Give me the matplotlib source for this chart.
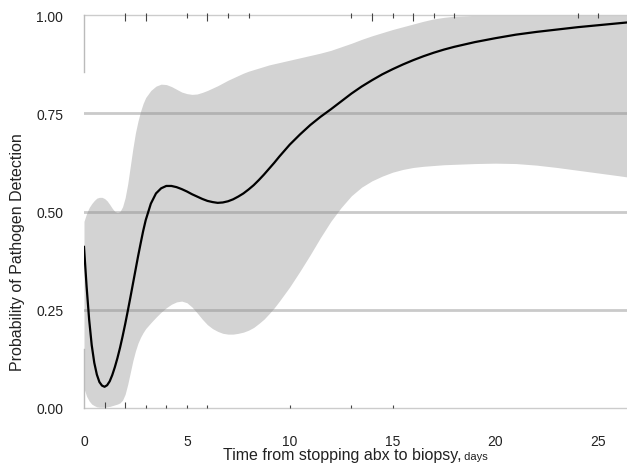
import matplotlib
matplotlib.use("Agg")
import matplotlib.pyplot as plt
from collections import Counter

plt.rcParams['font.family'] = ['Liberation Sans', 'DejaVu Sans']

# fitted curve and 95% band
days = [0, 0.125, 0.25, 0.375, 0.5, 0.625, 0.75, 0.875, 1, 1.125, 1.25, 1.375, 1.5,
        1.625, 1.75, 1.875, 2, 2.125, 2.25, 2.375, 2.5, 2.625, 2.75, 2.875, 3,
        3.25, 3.5, 3.75, 4, 4.25, 4.5, 4.75, 5, 5.25, 5.5, 5.75, 6, 6.25, 6.5, 6.75, 7,
        7.25, 7.5, 7.75, 8, 8.25, 8.5, 8.75, 9, 9.25, 9.5, 9.75, 10,
        10.5, 11, 11.5, 12, 12.5, 13, 13.5, 14, 14.5, 15, 15.5, 16, 16.5, 17, 17.5, 18,
        19, 20, 21, 22, 23, 24, 25, 26, 26.4]
prob = [0.41, 0.31, 0.225, 0.16, 0.115, 0.085, 0.066, 0.057, 0.054, 0.058, 0.068, 0.084,
        0.104, 0.127, 0.153, 0.182, 0.213, 0.246, 0.28, 0.315, 0.35, 0.385, 0.418, 0.45, 0.478,
        0.52, 0.546, 0.559, 0.565, 0.565, 0.562, 0.557, 0.551, 0.544, 0.538, 0.532, 0.527,
        0.524, 0.522, 0.523, 0.526, 0.531, 0.538, 0.546, 0.556, 0.567, 0.58, 0.594, 0.609,
        0.624, 0.64, 0.655, 0.67,
        0.696, 0.72, 0.741, 0.76, 0.78, 0.80, 0.818, 0.834, 0.849, 0.862, 0.874, 0.885,
        0.895, 0.904, 0.912, 0.919,
        0.931, 0.941, 0.95, 0.957, 0.963, 0.969, 0.974, 0.979, 0.981]
upper = [0.475, 0.495, 0.51, 0.52, 0.528, 0.534, 0.536, 0.536, 0.533, 0.527, 0.518, 0.508,
         0.50, 0.497, 0.50, 0.512, 0.535, 0.57, 0.615, 0.66, 0.70, 0.73, 0.755, 0.775, 0.79,
         0.808, 0.819, 0.824, 0.823, 0.818, 0.811, 0.804, 0.80, 0.798, 0.799, 0.803, 0.808,
         0.814, 0.82, 0.827, 0.834, 0.84, 0.846, 0.852, 0.857, 0.861, 0.865, 0.869, 0.873,
         0.876, 0.879, 0.882, 0.885,
         0.891, 0.897, 0.903, 0.91, 0.919, 0.928, 0.938, 0.947, 0.955, 0.963, 0.97, 0.977,
         0.984, 0.99, 0.994, 0.997,
         0.999, 1.0, 1.0, 1.0, 1.0, 1.0, 1.0, 1.0, 1.0]
lower = [0.05, 0.03, 0.018, 0.01, 0.006, 0.003, 0.002, 0.002, 0.002, 0.003, 0.004, 0.006,
         0.008, 0.01, 0.013, 0.02, 0.035, 0.06, 0.09, 0.12, 0.145, 0.165, 0.18, 0.192, 0.202,
         0.217, 0.231, 0.244, 0.255, 0.264, 0.27, 0.272, 0.268, 0.257, 0.242, 0.226, 0.212,
         0.202, 0.195, 0.19, 0.188, 0.188, 0.19, 0.193, 0.198, 0.205, 0.215, 0.226, 0.24,
         0.255, 0.272, 0.29, 0.308,
         0.348, 0.39, 0.434, 0.475, 0.51, 0.54, 0.562, 0.578, 0.59, 0.60, 0.607, 0.612,
         0.615, 0.617, 0.619, 0.62,
         0.622, 0.623, 0.622, 0.618, 0.612, 0.605, 0.598, 0.591, 0.588]

# observed biopsies: pathogen detected (top rug) / not detected (bottom rug)
detected = [2, 2, 3, 3, 5, 6, 6, 7, 8, 13, 14, 14, 15, 16, 16, 17, 18, 24, 25]
missed = [1, 1, 2, 2, 3, 4, 5, 6, 10, 13, 15]

fig = plt.figure(figsize=(6.27, 4.64), dpi=100)
ax = fig.add_axes([84 / 627, 55 / 464, 543 / 627, 393 / 464])

ax.fill_between(days, lower, upper, color='#d3d3d3', lw=0, zorder=1)
for yv in [0.25, 0.5, 0.75]:
    ax.axhline(yv, color='#8a8a8a', alpha=0.45, lw=2, zorder=2)
ax.axhline(0, color='#cccccc', lw=1, clip_on=False, zorder=2)
ax.axhline(1, color='#cccccc', lw=1, clip_on=False, zorder=2)
ax.axvline(0, ymin=0, ymax=0.15, color='#bbbbbb', lw=1, clip_on=False, zorder=3)
ax.axvline(0, ymin=0.855, ymax=1, color='#bbbbbb', lw=1, clip_on=False, zorder=3)
ax.plot(days, prob, color='black', lw=1.6, zorder=4, solid_joinstyle='round')

for d, n in Counter(detected).items():
    ax.vlines(d, 1 - 0.008 * n, 1.004, color='#444444', lw=0.8, clip_on=False, zorder=3)
for d, n in Counter(missed).items():
    ax.vlines(d, 0, 0.008 * n, color='#444444', lw=0.8, clip_on=False, zorder=3)

ax.set_xlim(0, 26.4)
ax.set_ylim(0, 1)
ax.set_xticks([0, 5, 10, 15, 20, 25])
ax.set_yticks([0, 0.25, 0.5, 0.75, 1.0])
ax.set_yticklabels(['0.00', '0.25', '0.50', '0.75', '1.00'])
ax.tick_params(axis='both', length=0, labelsize=10, colors='#222222')
ax.tick_params(axis='y', pad=15)
ax.tick_params(axis='x', pad=19)
for s in ax.spines.values():
    s.set_visible(False)

fig.text(18 / 627, 212 / 464, 'Probability of Pathogen Detection', rotation=90,
         ha='center', va='center', fontsize=11.5, color='#222222')

lab = fig.text(0, 4 / 464, 'Time from stopping abx to biopsy,', fontsize=11.5,
               va='baseline', color='#222222')
small = fig.text(0, 4 / 464, ' days', fontsize=8, va='baseline', color='#222222')
fig.canvas.draw()
r = fig.canvas.get_renderer()
w1 = lab.get_window_extent(r).width
w2 = small.get_window_extent(r).width
x0 = 355.5 - (w1 + w2) / 2
lab.set_x(x0 / 627)
small.set_x((x0 + w1) / 627)

fig.savefig('out.png', dpi=100)
